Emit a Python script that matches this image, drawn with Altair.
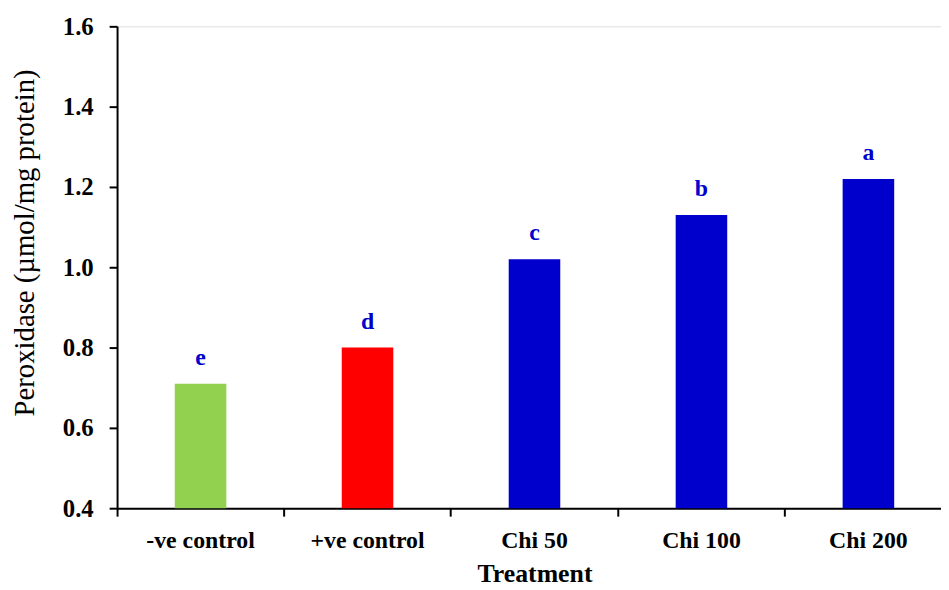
import altair as alt
import pandas as pd

treatments = ["-ve control", "+ve control", "Chi 50", "Chi 100", "Chi 200"]
values = [0.71, 0.80, 1.02, 1.13, 1.22]
letters = ["e", "d", "c", "b", "a"]
colors = ["#92D050", "#FF0000", "#0000CC", "#0000CC", "#0000CC"]

df = pd.DataFrame({"Treatment": treatments, "value": values, "letter": letters, "color": colors})

FONT = "Liberation Serif"

x = alt.X("Treatment:N", sort=treatments,
          scale=alt.Scale(range=[0, 842], paddingInner=0, paddingOuter=0),
          axis=alt.Axis(title="Treatment", labelAngle=0, bandPosition=0,
                        labelFont=FONT, labelFontSize=24, labelFontWeight="bold",
                        labelColor="black", labelPadding=13, tickSize=8, tickWidth=2,
                        tickColor="black", domainColor="black", domainWidth=2,
                        titleFont=FONT, titleFontSize=26, titleFontWeight="bold",
                        titleColor="black", titlePadding=8, titleX=421))

y = alt.Y("value:Q", scale=alt.Scale(domain=[0.4, 1.6], nice=False, zero=False),
          axis=alt.Axis(title="Peroxidase (µmol/mg protein)", values=[0.4, 0.6, 0.8, 1.0, 1.2, 1.4, 1.6],
                        format=".1f", grid=False,
                        labelFont=FONT, labelFontSize=25, labelFontWeight="bold",
                        labelColor="black", labelPadding=16, tickSize=8, tickWidth=2,
                        tickColor="black", domainColor="black", domainWidth=2,
                        titleFont=FONT, titleFontSize=29, titleFontWeight="normal",
                        titleColor="black", titlePadding=23, titleY=218))

base = alt.Chart(df)

bars = base.mark_bar(size=52, clip=True).encode(
    x=x, y=y,
    color=alt.Color("color:N", scale=None),
)

text = base.mark_text(dy=-26, font=FONT, fontSize=24, fontWeight="bold", color="#0000CC").encode(
    x=alt.X("Treatment:N", sort=treatments), y=alt.Y("value:Q"), text="letter:N"
)

chart = (bars + text).properties(
    width=831, height=486,
    autosize=alt.AutoSizeParams(type="none"),
    padding={"left": 110, "top": 16, "right": 0, "bottom": 80},
).configure_view(stroke=None).configure(background="white")

chart.save("out.html", embed_options={"renderer": "svg", "actions": False})
